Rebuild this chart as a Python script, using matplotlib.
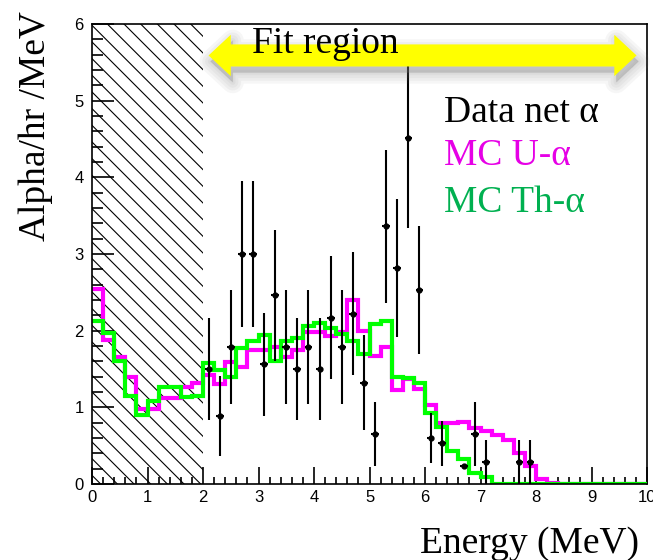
import matplotlib
matplotlib.use("Agg")
import matplotlib.pyplot as plt
import matplotlib.patches as mpatches
import matplotlib.transforms as mtransforms
import numpy as np

# --- data -------------------------------------------------------------
bin_edges = np.round(np.arange(0, 10.0001, 0.2), 2)

mc_u = [2.55, 1.88, 1.66, 1.39, 0.98, 0.98, 1.12, 1.12, 1.26, 1.32,
        1.42, 1.31, 1.59, 1.52, 1.75, 1.75, 1.79, 1.66, 1.75, 1.98,
        1.98, 1.93, 1.98, 2.40, 1.99, 1.67, 1.79, 1.22, 1.37, 1.24,
        1.03, 0.79, 0.79, 0.81, 0.73, 0.69, 0.64, 0.58, 0.40, 0.23,
        0.06, 0.01, 0, 0, 0, 0, 0, 0, 0, 0]

mc_th = [2.13, 1.97, 1.60, 1.15, 0.90, 1.08, 1.27, 1.27, 1.13, 1.15,
         1.58, 1.49, 1.39, 1.77, 1.86, 1.95, 1.60, 1.87, 1.90, 2.06,
         2.10, 2.04, 1.96, 1.86, 1.70, 2.09, 2.13, 1.40, 1.38, 1.32,
         0.93, 0.74, 0.43, 0.33, 0.14, 0.09, 0, 0, 0, 0,
         0, 0, 0, 0, 0, 0, 0, 0, 0, 0]

data_x = [2.1, 2.3, 2.5, 2.7, 2.9, 3.1, 3.3, 3.5, 3.7, 3.9,
          4.1, 4.3, 4.5, 4.7, 4.9, 5.1, 5.3, 5.5, 5.7, 5.9,
          6.1, 6.3, 6.7, 6.9, 7.1, 7.7, 7.9]
data_y = [1.50, 0.89, 1.79, 3.00, 3.00, 1.56, 2.46, 1.79, 1.50, 1.79,
          1.50, 2.17, 1.79, 2.22, 1.32, 0.65, 3.36, 2.82, 4.51, 2.53,
          0.60, 0.53, 0.23, 0.65, 0.29, 0.29, 0.29]
data_err = [0.67, 0.52, 0.74, 0.95, 0.95, 0.67, 0.85, 0.74, 0.67, 0.74,
            0.67, 0.80, 0.74, 0.80, 0.62, 0.42, 1.00, 0.90, 1.17, 0.84,
            0.33, 0.29, 0.02, 0.42, 0.29, 0.29, 0.29]

excluded_max = 2.0          # hatched region below fit range
fit_lo, fit_hi = 2.1, 9.81  # arrow extent
arrow_y = 5.59

# --- figure -----------------------------------------------------------
plt.rcParams["hatch.linewidth"] = 0.8
fig = plt.figure(figsize=(6.53, 5.60), dpi=100)
ax = fig.add_axes([0.1409, 0.1357, 0.85, 0.8214])

serif = "Liberation Serif"

# excluded region
ax.add_patch(mpatches.Rectangle((0, 0), excluded_max, 6, hatch="\\\\",
                                facecolor="none", edgecolor="black",
                                linewidth=0, zorder=1))

# MC histograms
ax.stairs(mc_u, bin_edges, baseline=None, color="#ff00ff", linewidth=3, zorder=3)
ax.stairs(mc_th, bin_edges, baseline=None, color="#00ff00", linewidth=3, zorder=4)

# data points
ax.errorbar(data_x, data_y, yerr=data_err, xerr=0.07, fmt="o", color="black",
            markersize=3.5, elinewidth=1.5, capsize=0, zorder=5)

# fit region arrow with soft shadow
head_len, body_h, head_h = 0.40, 0.144, 0.27
verts = [
    (fit_lo, arrow_y),
    (fit_lo + head_len, arrow_y + head_h),
    (fit_lo + head_len, arrow_y + body_h),
    (fit_hi - head_len, arrow_y + body_h),
    (fit_hi - head_len, arrow_y + head_h),
    (fit_hi, arrow_y),
    (fit_hi - head_len, arrow_y - head_h),
    (fit_hi - head_len, arrow_y - body_h),
    (fit_lo + head_len, arrow_y - body_h),
    (fit_lo + head_len, arrow_y - head_h),
]
shadow_tr = ax.transData + mtransforms.ScaledTranslation(2 / 100, -6 / 100, fig.dpi_scale_trans)
for lw in [16, 12, 8, 4, 1]:
    ax.add_patch(mpatches.Polygon(verts, closed=True, facecolor="gray",
                                  edgecolor="gray", linewidth=lw, alpha=0.07,
                                  joinstyle="round", transform=shadow_tr,
                                  zorder=6, clip_on=False))
ax.add_patch(mpatches.Polygon(verts, closed=True, facecolor="#ffff00",
                              edgecolor="none", zorder=7))

# axes styling
ax.set_xlim(0, 10)
ax.set_ylim(0, 6)
ax.set_xticks(range(0, 11))
ax.set_yticks(range(0, 7))
ax.set_xticks(np.arange(0, 10.01, 0.2), minor=True)
ax.set_yticks(np.arange(0, 6.01, 0.2), minor=True)
ax.tick_params(which="both", direction="in", top=False, right=False, width=1.2)
ax.tick_params(axis="x", which="major", length=12, pad=4)
ax.tick_params(axis="x", which="minor", length=5)
ax.tick_params(axis="y", which="major", length=16, pad=6)
ax.tick_params(axis="y", which="minor", length=8)
for lab in ax.get_xticklabels() + ax.get_yticklabels():
    lab.set_fontfamily("Liberation Sans")
    lab.set_fontsize(12)
for sp in ax.spines.values():
    sp.set_linewidth(1.2)
ax.spines["left"].set_zorder(8)
ax.spines["bottom"].set_zorder(8)

# texts
fig.text(0.3855, 1 - 53.3 / 560, "Fit region", family=serif, fontsize=27,
         va="baseline", ha="left", zorder=10)
fig.text(0.680, 1 - 121.7 / 560, "Data net α", family=serif, fontsize=27,
         va="baseline", color="black")
fig.text(0.680, 1 - 165 / 560, "MC U-α", family=serif, fontsize=27,
         va="baseline", color="#e600e6")
fig.text(0.680, 1 - 212.3 / 560, "MC Th-α", family=serif, fontsize=27,
         va="baseline", color="#00b050")
fig.text(36 / 653, 1 - 126.5 / 560, "Alpha/hr /MeV", family=serif, fontsize=27,
         rotation=90, ha="center", va="center")
fig.text(530 / 653, 1 - 553 / 560, "Energy (MeV)", family=serif, fontsize=27,
         ha="center", va="baseline")

fig.savefig("out.png", dpi=100, facecolor="white")
